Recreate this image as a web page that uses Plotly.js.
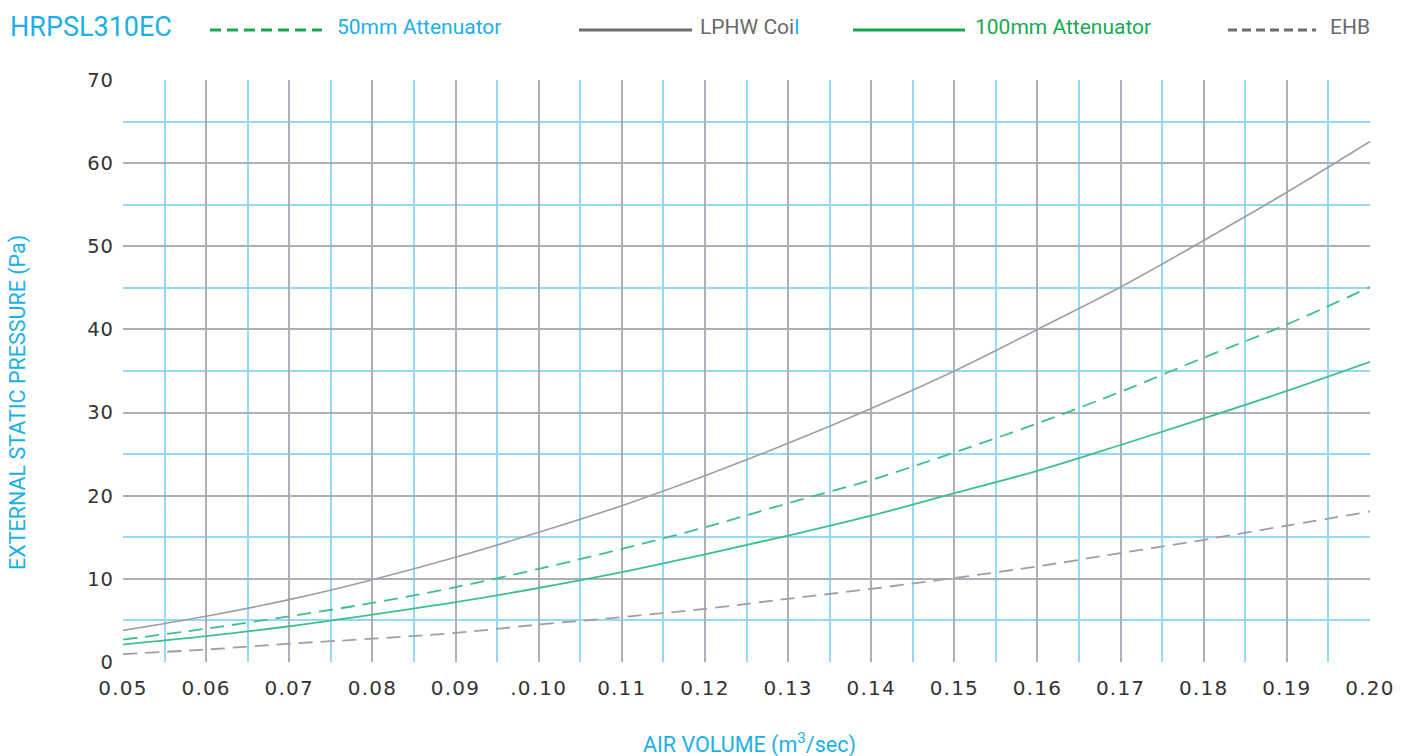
<!DOCTYPE html>
<html>
<head>
<meta charset="utf-8">
<script src="https://cdn.plot.ly/plotly-3.0.1.min.js"></script>
<style>
  html, body { margin: 0; padding: 0; background: #fff; }
  #chart { width: 1405px; height: 756px; }
  .xtick text { letter-spacing: 1.2px; }
  .ytick text { letter-spacing: 1px; }
</style>
</head>
<body>
<div id="chart"></div>
<script>
// ---- Data ----
const airVolume = [0.05, 0.06, 0.07, 0.08, 0.09, 0.10, 0.11, 0.12, 0.13, 0.14, 0.15, 0.16, 0.17, 0.18, 0.19, 0.20];
const lphwCoil       = [3.8, 5.5, 7.5, 9.9, 12.6, 15.6, 18.8, 22.4, 26.3, 30.5, 35.0, 40.0, 45.1, 50.7, 56.5, 62.6];
const atten50mm      = [2.7, 4.0, 5.5, 7.1, 9.0, 11.2, 13.6, 16.2, 19.1, 21.9, 25.2, 28.7, 32.5, 36.6, 40.6, 45.1];
const atten100mm     = [2.1, 3.1, 4.3, 5.7, 7.2, 8.9, 10.8, 12.95, 15.2, 17.6, 20.3, 23.0, 26.1, 29.3, 32.6, 36.1];
const ehb            = [0.95, 1.5, 2.2, 2.8, 3.5, 4.5, 5.4, 6.4, 7.6, 8.8, 10.1, 11.5, 13.1, 14.7, 16.4, 18.1];

const xTickVals   = [0.05, 0.06, 0.07, 0.08, 0.09, 0.10, 0.11, 0.12, 0.13, 0.14, 0.15, 0.16, 0.17, 0.18, 0.19, 0.20];
const xTickLabels = ['0.05', '0.06', '0.07', '0.08', '0.09', '.0.10', '0.11', '0.12', '0.13', '0.14', '0.15', '0.16', '0.17', '0.18', '0.19', '0.20'];
const xMinorVals  = [0.055, 0.065, 0.075, 0.085, 0.095, 0.105, 0.115, 0.125, 0.135, 0.145, 0.155, 0.165, 0.175, 0.185, 0.195];
const yTickVals   = [0, 10, 20, 30, 40, 50, 60, 70];
const yMinorVals  = [5, 15, 25, 35, 45, 55, 65];

const chartTitle = 'HRPSL310EC';
const seriesNames = ['50mm Attenuator', 'LPHW Coil', '100mm Attenuator', 'EHB'];
const xAxisTitle = 'AIR VOLUME (m<sup>3</sup>/sec)';
const yAxisTitle = 'EXTERNAL STATIC PRESSURE (Pa)';

// ---- Styling ----
const W = 1405, H = 756;
const M = { l: 123, r: 35, t: 80, b: 94 };
const plotW = W - M.l - M.r, plotH = H - M.t - M.b;
const px = p => (p - M.l) / plotW;            // pixel x -> paper x
const py = p => (H - M.b - p) / plotH;        // pixel y -> paper y

const BLUE = '#1cb0e8';
const LINE_GREEN = '#3cc08c';
const LINE_GRAY = '#9c9fa5';
const LEG_GREEN = '#17a94f';
const LEG_GRAY = '#6d6d6d';
const TEXT_GRAY = '#6a6a6a';
const GRID_GRAY = '#adb0b6';
const GRID_BLUE = '#97d9f5';
const FONT = 'Roboto, "Liberation Sans", sans-serif';
const TICKFONT = '"DejaVu Sans", sans-serif';

const traces = [
  { x: airVolume, y: lphwCoil, name: seriesNames[1], mode: 'lines',
    line: { color: LINE_GRAY, width: 1.6, shape: 'spline', smoothing: 1 } },
  { x: airVolume, y: atten50mm, name: seriesNames[0], mode: 'lines',
    line: { color: LINE_GREEN, width: 1.8, dash: '14px,8px', shape: 'spline', smoothing: 1 } },
  { x: airVolume, y: atten100mm, name: seriesNames[2], mode: 'lines',
    line: { color: LINE_GREEN, width: 1.8, shape: 'spline', smoothing: 1 } },
  { x: airVolume, y: ehb, name: seriesNames[3], mode: 'lines',
    line: { color: LINE_GRAY, width: 1.8, dash: '14px,8px', shape: 'spline', smoothing: 1 } }
];

// Legend drawn across the top (samples + labels)
const legY = 30;
const shapes = [
  { type: 'line', xref: 'paper', yref: 'paper', x0: px(210), x1: px(322), y0: py(legY), y1: py(legY),
    line: { color: LEG_GREEN, width: 3.2, dash: '11px,6px' } },
  { type: 'line', xref: 'paper', yref: 'paper', x0: px(579), x1: px(692), y0: py(legY), y1: py(legY),
    line: { color: LEG_GRAY, width: 3.2 } },
  { type: 'line', xref: 'paper', yref: 'paper', x0: px(853), x1: px(965), y0: py(legY), y1: py(legY),
    line: { color: LEG_GREEN, width: 3.2 } },
  { type: 'line', xref: 'paper', yref: 'paper', x0: px(1228), x1: px(1316), y0: py(legY), y1: py(legY),
    line: { color: LEG_GRAY, width: 3.2, dash: '9px,5px' } }
];

const annTextY = 27;
const annotations = [
  { text: chartTitle, xref: 'paper', yref: 'paper', x: px(8), y: py(annTextY), xanchor: 'left', yanchor: 'middle',
    showarrow: false, font: { family: FONT, size: 27, color: BLUE } },
  { text: seriesNames[0], xref: 'paper', yref: 'paper', x: px(335), y: py(annTextY), xanchor: 'left', yanchor: 'middle',
    showarrow: false, font: { family: FONT, size: 21, color: BLUE } },
  { text: 'LPHW Coi<span style="color:' + BLUE + '">l</span>', xref: 'paper', yref: 'paper', x: px(698), y: py(annTextY), xanchor: 'left', yanchor: 'middle',
    showarrow: false, font: { family: FONT, size: 21, color: TEXT_GRAY } },
  { text: seriesNames[2], xref: 'paper', yref: 'paper', x: px(973), y: py(annTextY), xanchor: 'left', yanchor: 'middle',
    showarrow: false, font: { family: FONT, size: 21, color: LEG_GREEN } },
  { text: seriesNames[3], xref: 'paper', yref: 'paper', x: px(1328), y: py(annTextY), xanchor: 'left', yanchor: 'middle',
    showarrow: false, font: { family: FONT, size: 21, color: TEXT_GRAY } },
  // y axis title (placed like the reference, slightly below the plot centre)
  { text: yAxisTitle, xref: 'paper', yref: 'paper', x: px(18), y: py(403), xanchor: 'center', yanchor: 'middle',
    textangle: -90, showarrow: false, font: { family: FONT, size: 21.5, color: BLUE } },
  // x axis title
  { text: xAxisTitle, xref: 'paper', yref: 'paper', x: px(750), y: py(743), xanchor: 'center', yanchor: 'middle',
    showarrow: false, font: { family: FONT, size: 21.5, color: BLUE } }
];

const layout = {
  width: W, height: H,
  margin: M,
  paper_bgcolor: '#ffffff', plot_bgcolor: '#ffffff',
  showlegend: false,
  font: { family: FONT },
  xaxis: {
    range: [0.05, 0.20],
    tickmode: 'array', tickvals: xTickVals, ticktext: xTickLabels,
    ticks: '', ticklabelstandoff: 12,
    tickfont: { family: TICKFONT, size: 20, color: '#333333' },
    showgrid: true, gridcolor: GRID_GRAY, gridwidth: 2,
    minor: { tickmode: 'array', tickvals: xMinorVals, showgrid: true, gridcolor: GRID_BLUE, gridwidth: 2 },
    zeroline: false, showline: false
  },
  yaxis: {
    range: [0, 70],
    tickmode: 'array', tickvals: yTickVals,
    ticks: '', ticklabelstandoff: 8,
    tickfont: { family: TICKFONT, size: 19.5, color: '#333333' },
    showgrid: true, gridcolor: GRID_GRAY, gridwidth: 2,
    minor: { tickmode: 'array', tickvals: yMinorVals, showgrid: true, gridcolor: GRID_BLUE, gridwidth: 2 },
    zeroline: false, showline: false
  },
  shapes: shapes,
  annotations: annotations
};

Plotly.newPlot('chart', traces, layout, { displayModeBar: false, staticPlot: true });
</script>
</body>
</html>
